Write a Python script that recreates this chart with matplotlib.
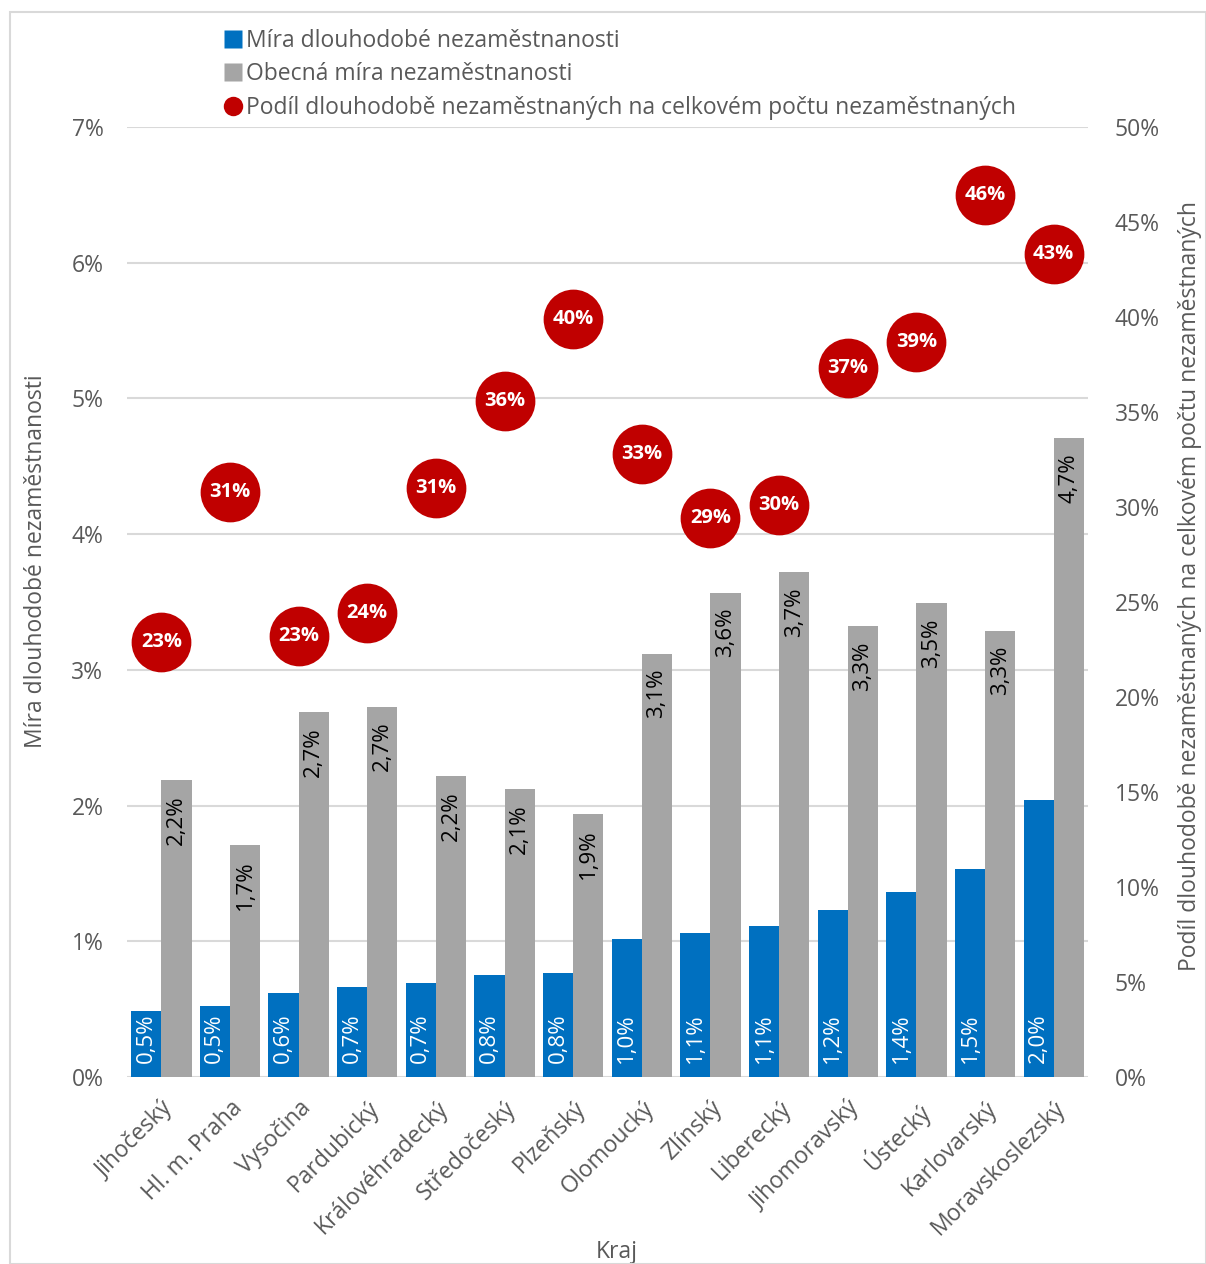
import matplotlib.pyplot as plt
import matplotlib.patches as patches
from matplotlib.lines import Line2D
import numpy as np

plt.rcParams['font.family'] = ['Open Sans', 'DejaVu Sans']

# Data
kraje = ['Jihočeský', 'Hl. m. Praha', 'Vysočina', 'Pardubický', 'Královéhradecký',
         'Středočeský', 'Plzeňský', 'Olomoucký', 'Zlínský', 'Liberecký',
         'Jihomoravský', 'Ústecký', 'Karlovarský', 'Moravskoslezský']
dlouhodoba = [0.49, 0.52, 0.62, 0.66, 0.69, 0.75, 0.77, 1.02, 1.06, 1.11, 1.23, 1.36, 1.53, 2.04]
obecna = [2.19, 1.71, 2.69, 2.73, 2.22, 2.12, 1.94, 3.12, 3.57, 3.72, 3.32, 3.49, 3.29, 4.71]
podil = [22.9, 30.8, 23.2, 24.4, 31.0, 35.6, 39.9, 32.8, 29.4, 30.1, 37.3, 38.7, 46.4, 43.3]

blue = '#0070C0'
grey = '#A5A5A5'
red = '#C00000'
txt = '#595959'
fs = 16.5

fig = plt.figure(figsize=(12.06, 12.64), dpi=100)
ax = fig.add_axes([0.1053, 0.1479, 0.7969, 0.7516])
ax2 = ax.twinx()

x = np.arange(len(kraje))
w = 0.44
ax.bar(x - w / 2, dlouhodoba, w, color=blue, zorder=3)
ax.bar(x + w / 2, obecna, w, color=grey, zorder=3)

def fmt(v):
    return f'{v:.1f}'.replace('.', ',') + '%'

# popisky sloupcu
for i in range(len(kraje)):
    ax.annotate(fmt(dlouhodoba[i]), (x[i] - w / 2, 0), xytext=(0, 10), textcoords='offset points',
                rotation=90, ha='center', va='bottom', color='white', fontsize=16, zorder=4)
    ax.annotate(fmt(obecna[i]), (x[i] + w / 2, obecna[i]), xytext=(0, -11), textcoords='offset points',
                rotation=90, ha='center', va='top', color='black', fontsize=16, zorder=4)

ax.set_xlim(-0.5, len(kraje) - 0.5)
ax.set_ylim(0, 7)
ax.set_yticks(range(0, 8))
ax.set_yticklabels([f'{t}%' for t in range(0, 8)])
ax.grid(axis='y', color='#D9D9D9', linewidth=1.5, zorder=0)
ax.set_axisbelow(True)
ax.set_xticks(x)
ax.set_xticklabels(kraje, rotation=45, ha='right', rotation_mode='anchor', fontsize=fs, color=txt)
ax.tick_params(length=0, labelsize=fs, labelcolor=txt)
ax.tick_params(axis='y', pad=17)
ax.tick_params(axis='x', pad=14)
ax.set_ylabel('Míra dlouhodobé nezaměstnanosti', fontsize=fs, color=txt)
ax.yaxis.set_label_coords(-0.082, 0.543)
ax.set_xlabel('Kraj', fontsize=fs, color=txt)
ax.xaxis.set_label_coords(0.51, -0.172)

# podil dlouhodobe nezamestnanych - kolecka
ax2.scatter(x, podil, s=1850, color=red, zorder=5, linewidths=0)
for i in range(len(kraje)):
    ax2.text(x[i], podil[i], f'{podil[i]:.0f}%', ha='center', va='center', color='white',
             fontsize=14.5, fontweight='bold', zorder=6)
ax2.set_ylim(0, 50)
ax2.set_yticks(range(0, 51, 5))
ax2.set_yticklabels([f'{t}%' for t in range(0, 51, 5)])
ax2.tick_params(length=0, labelsize=fs, labelcolor=txt, pad=19)
ax2.set_ylabel('Podíl dlouhodobě nezaměstnaných na celkovém počtu nezaměstnaných',
               fontsize=fs, color=txt)
ax2.yaxis.set_label_coords(1.094, 0.517)

for a in (ax, ax2):
    for s in a.spines.values():
        s.set_visible(False)

handles = [Line2D([], [], marker='s', color='none', markerfacecolor=blue, markeredgecolor='none', markersize=13),
           Line2D([], [], marker='s', color='none', markerfacecolor=grey, markeredgecolor='none', markersize=13),
           Line2D([], [], marker='o', color='none', markerfacecolor=red, markeredgecolor='none', markersize=14)]
labels = ['Míra dlouhodobé nezaměstnanosti', 'Obecná míra nezaměstnanosti',
          'Podíl dlouhodobě nezaměstnaných na celkovém počtu nezaměstnaných']
leg = fig.legend(handles, labels, loc='upper left', bbox_to_anchor=(0.172, 0.99), frameon=False,
                 fontsize=fs, handlelength=0.8, handletextpad=0.2, labelspacing=0.42, borderpad=0.2)
for t in leg.get_texts():
    t.set_color(txt)

fig.patches.append(patches.Rectangle((10 / 1206, 0), 1 - 10 / 1206, 1 - 12 / 1264, transform=fig.transFigure,
                                     fill=False, edgecolor='#D9D9D9', linewidth=1.5))

plt.savefig('out.png', dpi=100)
